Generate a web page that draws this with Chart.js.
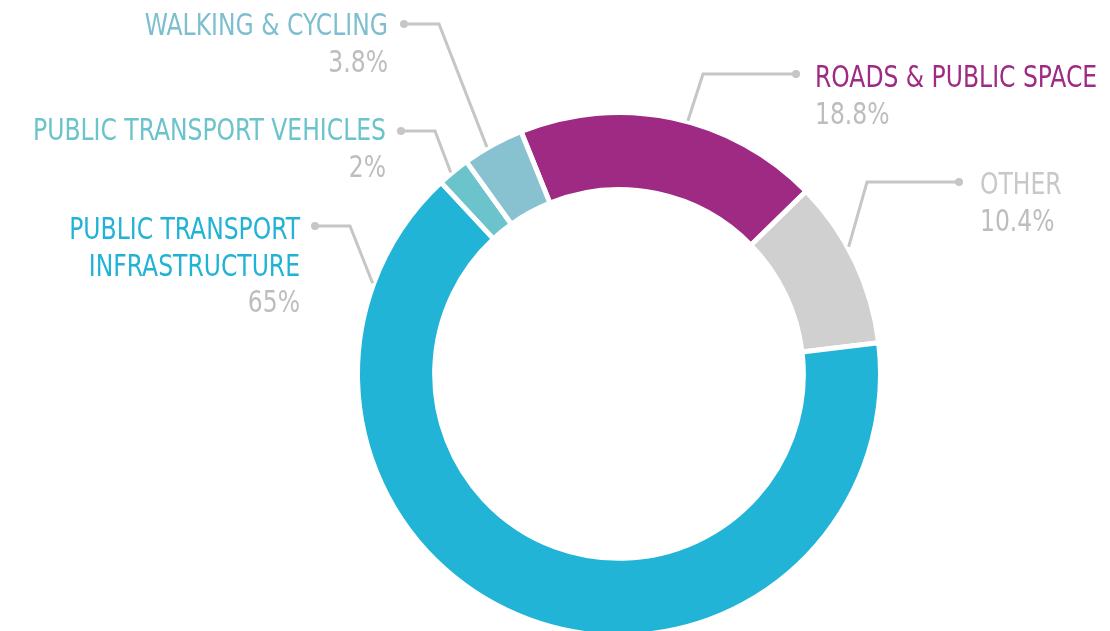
<!DOCTYPE html>
<html>
<head>
<meta charset="utf-8">
<script src="https://cdn.jsdelivr.net/npm/chart.js@4.4.1/dist/chart.umd.min.js"></script>
<style>
  html, body { margin: 0; padding: 0; background: #fff; overflow: hidden; }
  #wrap { width: 1110px; height: 640px; }
</style>
</head>
<body>
<div id="wrap"><canvas id="spendChart" width="1110" height="640"></canvas></div>
<script>
// spending split, starting at the top and going clockwise
const categories = ['ROADS & PUBLIC SPACE', 'OTHER', 'PUBLIC TRANSPORT INFRASTRUCTURE', 'PUBLIC TRANSPORT VEHICLES', 'WALKING & CYCLING'];
const shares = [18.8, 10.4, 65, 2, 3.8];
const shareLabels = ['18.8%', '10.4%', '65%', '2%', '3.8%'];
const sliceColors = ['#9e2a83', '#d0d0d0', '#21b4d6', '#6bc4cb', '#88c2d0'];
const textColors = ['#9e2a83', '#c8c8c8', '#21b3d5', '#6bc3cb', '#7dbfce'];

// label placement (dot, elbow, text) - t is where the leader hits its slice (0..1 along arc)
const labelLayout = [
    { lines: ['ROADS & PUBLIC SPACE'], dot: [796, 74], elbow: [703, 74], t: 0.55, x: 815, y: 87, align: 'left' },
    { lines: ['OTHER'], dot: [959, 182], elbow: [867, 182], t: 0.41, x: 980, y: 194, align: 'left' },
    { lines: ['PUBLIC TRANSPORT', 'INFRASTRUCTURE'], dot: [315, 226], elbow: [350, 226], t: 0.885, x: 300, y: 239, align: 'right' },
    { lines: ['PUBLIC TRANSPORT VEHICLES'], dot: [401, 131], elbow: [435, 131], t: 0.42, x: 386, y: 140, align: 'right' },
    { lines: ['WALKING & CYCLING'], dot: [404, 24], elbow: [439, 24], t: 0.4, x: 388, y: 35, align: 'right' }
];

const labelFont = "30px 'DejaVu Sans Condensed', sans-serif";
const squeeze = 0.87; // no DIN-style condensed font here, so narrow it a bit
const lineHeight = 36.5;

const leaderLabels = {
    id: 'leaderLabels',
    afterDraw(chart) {
        const ctx = chart.ctx;
        const arcs = chart.getDatasetMeta(0).data;
        ctx.save();
        arcs.forEach(function(arc, i) {
            const lay = labelLayout[i];
            const p = arc.getProps(['x', 'y', 'startAngle', 'endAngle', 'outerRadius'], true);
            const a = p.startAngle + (p.endAngle - p.startAngle) * lay.t;
            const r = p.outerRadius + 1;
            const ex = p.x + Math.cos(a) * r;
            const ey = p.y + Math.sin(a) * r;

            // leader line
            ctx.strokeStyle = '#c6c6c6';
            ctx.lineWidth = 3;
            ctx.lineJoin = 'miter';
            ctx.beginPath();
            ctx.moveTo(lay.dot[0], lay.dot[1]);
            ctx.lineTo(lay.elbow[0], lay.elbow[1]);
            ctx.lineTo(ex, ey);
            ctx.stroke();
            ctx.fillStyle = '#c6c6c6';
            ctx.beginPath();
            ctx.arc(lay.dot[0], lay.dot[1], 4, 0, Math.PI * 2);
            ctx.fill();

            // text
            ctx.save();
            ctx.translate(lay.x, 0);
            ctx.scale(squeeze, 1);
            ctx.font = labelFont;
            ctx.textAlign = lay.align;
            ctx.textBaseline = 'alphabetic';
            ctx.fillStyle = textColors[i];
            let y = lay.y;
            lay.lines.forEach(function(line) {
                ctx.fillText(line, 0, y);
                y += lineHeight;
            });
            ctx.fillStyle = '#bdbdbd';
            ctx.fillText(shareLabels[i], 0, y);
            ctx.restore();
        });
        ctx.restore();
    }
};

var spend = document.getElementById('spendChart').getContext('2d');
var spendChart = new Chart(spend, {
    type: 'doughnut',
    data: {
        labels: categories,
        datasets: [{
            data: shares,
            backgroundColor: sliceColors,
            borderColor: '#ffffff',
            borderWidth: 5,
            hoverOffset: 0
        }]
    },
    options: {
        responsive: false,
        animation: false,
        rotation: -22,
        cutout: '70.5%',
        layout: {
            padding: { left: 355, right: 227, top: 110, bottom: 2 }
        },
        plugins: {
            legend: { display: false },
            tooltip: { enabled: false }
        },
        events: []
    },
    plugins: [leaderLabels]
});
</script>
</body>
</html>
